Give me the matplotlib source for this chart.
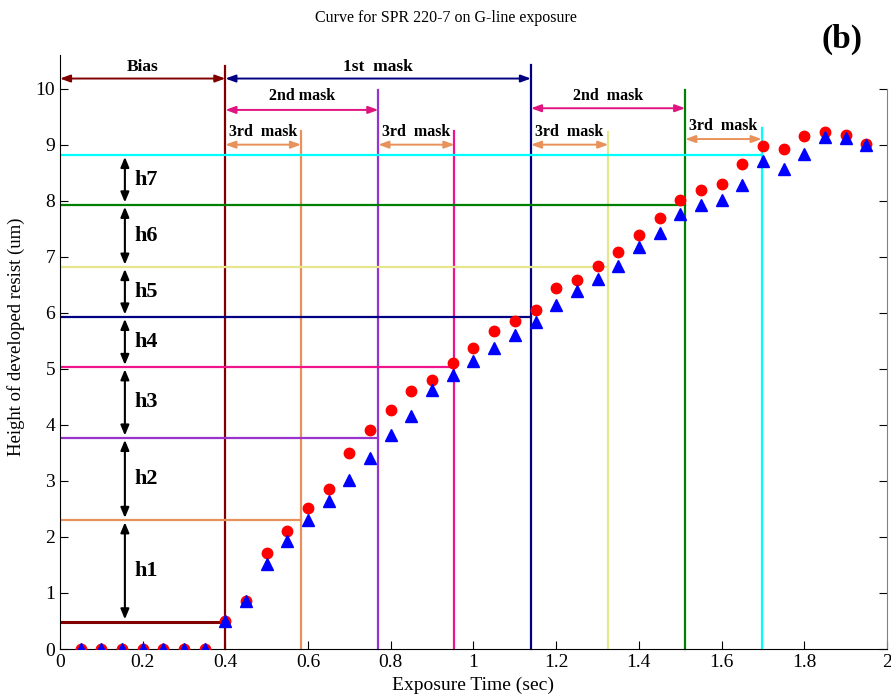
import matplotlib
matplotlib.use('Agg')
import matplotlib.pyplot as plt
from matplotlib.ticker import MultipleLocator

plt.rcParams['font.family'] = ['Liberation Serif', 'DejaVu Serif']

# exposure time (sec) and developed resist height (um) for two runs
exposure = [0.05, 0.10, 0.15, 0.20, 0.25, 0.30, 0.35, 0.40, 0.45, 0.50,
            0.55, 0.60, 0.65, 0.70, 0.75, 0.80, 0.85, 0.90, 0.95, 1.00,
            1.05, 1.10, 1.15, 1.20, 1.25, 1.30, 1.35, 1.40, 1.45, 1.50,
            1.55, 1.60, 1.65, 1.70, 1.75, 1.80, 1.85, 1.90, 1.95]
height_a = [0, 0, 0, 0, 0, 0, 0, 0.50, 0.86, 1.71,
            2.10, 2.51, 2.86, 3.50, 3.90, 4.26, 4.61, 4.80, 5.10, 5.38,
            5.67, 5.85, 6.05, 6.44, 6.59, 6.84, 7.08, 7.39, 7.69, 8.02,
            8.19, 8.29, 8.66, 8.97, 8.93, 9.16, 9.22, 9.17, 9.01]
height_b = [0, 0, 0, 0, 0, 0, 0, 0.50, 0.85, 1.52,
            1.92, 2.31, 2.65, 3.02, 3.41, 3.82, 4.16, 4.62, 4.89, 5.14,
            5.38, 5.61, 5.83, 6.14, 6.39, 6.60, 6.84, 7.17, 7.43, 7.77,
            7.92, 8.02, 8.28, 8.70, 8.57, 8.83, 9.13, 9.12, 9.00]

# mask switch times and the resist levels reached at each one
switch_times = [0.40, 0.583, 0.770, 0.954, 1.139, 1.326, 1.512, 1.697]
step_levels = [0.49, 2.30, 3.77, 5.03, 5.93, 6.82, 7.93, 8.82]
step_labels = ['h1', 'h2', 'h3', 'h4', 'h5', 'h6', 'h7']

line_colors = ['#800000', '#E8915A', '#9A32CD', '#F0148C',
               '#000080', '#E6E68C', '#008000', '#00FFFF']
line_tops = [10.40, 9.25, 9.98, 9.25, 10.43, 9.23, 9.98, 9.29]

fig = plt.figure(figsize=(8.91, 6.98), dpi=100)
ax = fig.add_axes([0.0673, 0.0702, 0.9282, 0.851])


def span_arrow(x0, x1, y, color, text, text_y, size=11.5):
    ax.annotate('', xy=(x1, y), xytext=(x0, y),
                arrowprops=dict(arrowstyle='<|-|>,head_length=0.6,head_width=0.22',
                                color=color, lw=1.4, shrinkA=0, shrinkB=0,
                                mutation_scale=10))
    ax.text((x0 + x1) / 2, text_y, text, ha='center', va='center',
            fontsize=size, fontweight='bold')


# level lines and switch-time lines
for t, h, c, top in zip(switch_times, step_levels, line_colors, line_tops):
    lw = 2.2 if c == '#800000' else 1.6
    ax.plot([0, t], [h, h], color=c, lw=lw, zorder=2)
    ax.plot([t, t], [0, top], color=c, lw=1.6, zorder=2, clip_on=False)

# heights between successive levels
for lo, hi, lab in zip(step_levels[:-1], step_levels[1:], step_labels):
    ax.annotate('', xy=(0.157, hi - 0.04), xytext=(0.157, lo + 0.04),
                arrowprops=dict(arrowstyle='<|-|>,head_length=0.6,head_width=0.25',
                                color='black', lw=1.5, shrinkA=0, shrinkB=0,
                                mutation_scale=10))
    ax.text(0.18, (lo + hi) / 2, lab, ha='left', va='center',
            fontsize=16, fontweight='bold')

# exposure phases
span_arrow(0.0, 0.40, 10.18, '#800000', 'Bias', 10.38, size=12.5)
span_arrow(0.40, 1.139, 10.18, '#000080', '1st  mask', 10.38, size=12.5)
span_arrow(0.40, 0.770, 9.62, '#E0147F', '2nd mask', 9.87)
span_arrow(1.139, 1.512, 9.65, '#E0147F', '2nd  mask', 9.87)
for x0, x1 in [(0.40, 0.583), (0.770, 0.954), (1.139, 1.326)]:
    span_arrow(x0, x1, 9.0, '#E8915A', '3rd  mask', 9.22)
span_arrow(1.512, 1.697, 9.1, '#E8915A', '3rd  mask', 9.33)

ax.plot(exposure, height_a, 'o', color='red', markersize=7.5, zorder=4)
ax.plot(exposure, height_b, '^', color='blue', markersize=8, zorder=5)

ax.set_xlim(0, 2)
ax.set_ylim(0, 10.6)
ax.set_xticks([0, 0.2, 0.4, 0.6, 0.8, 1.0, 1.2, 1.4, 1.6, 1.8, 2.0])
ax.set_xticklabels(['0', '0.2', '0.4', '0.6', '0.8', '1', '1.2', '1.4', '1.6', '1.8', '2'])
ax.yaxis.set_major_locator(MultipleLocator(1))
ax.set_yticks(range(0, 11))
ax.tick_params(direction='in', length=6, labelsize=14, right=True, top=False)
ax.spines['top'].set_visible(False)
ax.spines['right'].set_color('gray')
ax.spines['right'].set_bounds(0, 10)

ax.set_xlabel('Exposure Time (sec)', fontsize=14, labelpad=4)
ax.set_ylabel('Height of developed resist (um)', fontsize=13.5)
ax.yaxis.set_label_coords(-0.042, 0.525)
fig.text(0.5, 0.974, 'Curve for SPR 220-7 on G-line exposure',
         ha='center', va='center', fontsize=11.5)
fig.text(0.945, 0.943, '(b)', ha='center', va='center',
         fontsize=24, fontweight='bold')

fig.savefig('out.png', dpi=100)
